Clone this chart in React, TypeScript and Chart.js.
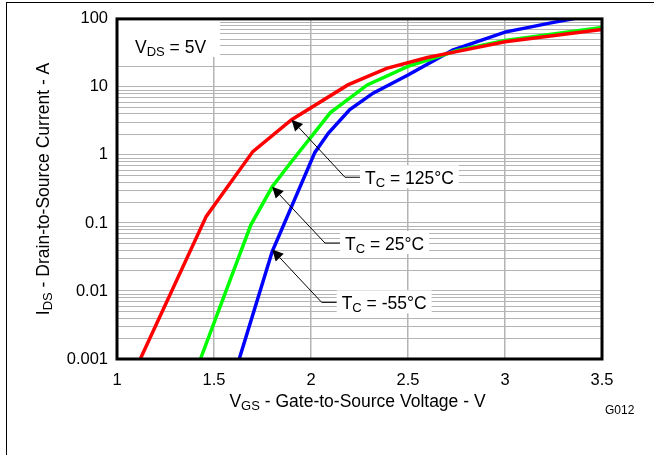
import React, { useEffect, useRef } from 'react';
import { Chart, registerables } from 'chart.js';

Chart.register(...registerables);

// ---- Data ----
const red125X = [1.12, 1.46, 1.7, 1.9, 2.19, 2.39, 2.6, 2.75, 3.0, 3.5];
const red125Y = [0.001, 0.125, 1.12, 3.3, 10.7, 18.7, 27, 33, 46, 70];

const green25X = [1.43, 1.69, 1.8, 1.9, 2.1, 2.29, 2.5, 2.75, 3.0, 3.5];
const green25Y = [0.001, 0.094, 0.34, 0.8, 4.2, 10.7, 20, 34, 48, 75];

const blue55X = [1.63, 1.8, 2.02, 2.09, 2.2, 2.32, 2.5, 2.73, 3.0, 3.25, 3.5];
const blue55Y = [0.001, 0.038, 1.09, 2.1, 4.65, 8.1, 15, 34.7, 64, 89, 120];

const xTickValues = [1, 1.5, 2, 2.5, 3, 3.5];
const xTickLabels = ['1', '1.5', '2', '2.5', '3', '3.5'];
const yDecades = [0.001, 0.01, 0.1, 1, 10, 100];
const yTickLabels = ['0.001', '0.01', '0.1', '1', '10', '100'];

const annoTexts = ['125°C', '25°C', '-55°C'];
const annoTipX = [1.9, 1.8, 1.8];
const annoTipY = [3.3, 0.34, 0.0406];
const annoElbowX = [2.175, 2.072, 2.055];
const annoElbowY = [0.47, 0.0507, 0.0068];

const FONT = '"Liberation Sans", Arial, Helvetica, sans-serif';
const MAIN = `17.5px ${FONT}`;
const SUB = `13px ${FONT}`;

type Part = [string, boolean];

function richWidth(ctx: CanvasRenderingContext2D, parts: Part[]) {
  let w = 0;
  for (const [t, s] of parts) {
    ctx.font = s ? SUB : MAIN;
    w += ctx.measureText(t).width;
  }
  return w;
}

function drawRich(ctx: CanvasRenderingContext2D, parts: Part[], x: number, y: number, align: 'left' | 'center') {
  const w = richWidth(ctx, parts);
  let cx = align === 'center' ? x - w / 2 : x;
  ctx.textAlign = 'left';
  ctx.textBaseline = 'alphabetic';
  ctx.fillStyle = '#000';
  for (const [t, s] of parts) {
    ctx.font = s ? SUB : MAIN;
    ctx.fillText(t, cx, s ? y + 3 : y);
    cx += ctx.measureText(t).width;
  }
}

function labelParts(i: number): Part[] {
  return [['T', false], ['C', true], [' = ' + annoTexts[i], false]];
}

const decorPlugin = {
  id: 'decor',
  beforeDatasetsDraw(chart: any) {
    const ctx: CanvasRenderingContext2D = chart.ctx;
    const { left, top } = chart.chartArea;
    const xs = chart.scales.x;
    const ys = chart.scales.y;
    ctx.save();
    // V_DS box
    const vParts: Part[] = [['V', false], ['DS', true], [' = 5V', false]];
    const vw = richWidth(ctx, vParts);
    ctx.fillStyle = '#fff';
    ctx.fillRect(left, top, vw + 32, 38);
    // annotation boxes
    for (let i = 0; i < annoTexts.length; i++) {
      const ex = xs.getPixelForValue(annoElbowX[i]);
      const ey = ys.getPixelForValue(annoElbowY[i]);
      const w = richWidth(ctx, labelParts(i));
      ctx.fillStyle = '#fff';
      ctx.fillRect(ex + 15, ey - 12, w + 10, 23);
    }
    ctx.restore();
  },
  afterDraw(chart: any) {
    const ctx: CanvasRenderingContext2D = chart.ctx;
    const { left, top, right, bottom } = chart.chartArea;
    const xs = chart.scales.x;
    const ys = chart.scales.y;
    ctx.save();

    // plot border
    ctx.strokeStyle = '#000';
    ctx.lineWidth = 3;
    ctx.strokeRect(left, top, right - left, bottom - top);

    // outer frame (top + left)
    ctx.fillStyle = '#000';
    ctx.fillRect(6, 2, 648, 1);
    ctx.fillRect(6, 2, 1, 453);

    // V_DS label
    drawRich(ctx, [['V', false], ['DS', true], [' = 5V', false]], left + 18, top + 34, 'left');

    // annotations
    for (let i = 0; i < annoTexts.length; i++) {
      const tx = xs.getPixelForValue(annoTipX[i]);
      const ty = ys.getPixelForValue(annoTipY[i]);
      const ex = xs.getPixelForValue(annoElbowX[i]);
      const ey = ys.getPixelForValue(annoElbowY[i]);
      const dx = tx - ex, dy = ty - ey;
      const len = Math.hypot(dx, dy);
      const ux = dx / len, uy = dy / len;
      const hl = 11, hw = 5.5;
      const bx = tx - ux * hl, by = ty - uy * hl;
      ctx.strokeStyle = '#000';
      ctx.lineWidth = 1;
      ctx.beginPath();
      ctx.moveTo(ex + 15, ey);
      ctx.lineTo(ex, ey);
      ctx.lineTo(bx, by);
      ctx.stroke();
      ctx.fillStyle = '#000';
      ctx.beginPath();
      ctx.moveTo(tx, ty);
      ctx.lineTo(bx - uy * hw, by + ux * hw);
      ctx.lineTo(bx + uy * hw, by - ux * hw);
      ctx.closePath();
      ctx.fill();
      drawRich(ctx, labelParts(i), ex + 20, ey + 6.5, 'left');
    }

    // x title
    drawRich(ctx, [['V', false], ['GS', true], [' - Gate-to-Source Voltage - V', false]], (left + right) / 2 - 2, 407, 'center');

    // y title (rotated)
    ctx.save();
    ctx.translate(49, (top + bottom) / 2);
    ctx.rotate(-Math.PI / 2);
    drawRich(ctx, [['I', false], ['DS', true], [' - Drain-to-Source Current - A', false]], 0, 0, 'center');
    ctx.restore();

    // figure id
    ctx.font = `12px ${FONT}`;
    ctx.fillStyle = '#000';
    ctx.textAlign = 'left';
    ctx.textBaseline = 'alphabetic';
    ctx.fillText('G012', 605, 414);

    ctx.restore();
  },
};

function toPoints(xs: number[], ys: number[]) {
  return xs.map((x, i) => ({ x, y: ys[i] }));
}

function isDecade(v: number) {
  const l = Math.log10(v);
  return Math.abs(l - Math.round(l)) < 1e-9;
}

export default function App() {
  const ref = useRef<HTMLCanvasElement>(null);
  useEffect(() => {
    if (!ref.current) return;
    const minorTicks: number[] = [];
    for (let d = 0; d < yDecades.length; d++) {
      const base = yDecades[d];
      if (d === yDecades.length - 1) { minorTicks.push(base); break; }
      for (let k = 1; k <= 9; k++) minorTicks.push(parseFloat((base * k).toPrecision(6)));
    }
    const chart = new Chart(ref.current, {
      type: 'line',
      data: {
        datasets: [
          { label: 'TC = 125°C', data: toPoints(red125X, red125Y), borderColor: '#ff0000', borderWidth: 3.5, pointRadius: 0, tension: 0, fill: false },
          { label: 'TC = 25°C', data: toPoints(green25X, green25Y), borderColor: '#00ff00', borderWidth: 3.5, pointRadius: 0, tension: 0, fill: false },
          { label: 'TC = -55°C', data: toPoints(blue55X, blue55Y), borderColor: '#0000ff', borderWidth: 3.5, pointRadius: 0, tension: 0, fill: false },
        ],
      },
      options: {
        animation: false,
        responsive: false,
        events: [],
        layout: { padding: { left: 0, top: 15, right: 52, bottom: 0 } },
        plugins: { legend: { display: false }, tooltip: { enabled: false }, title: { display: false } },
        scales: {
          x: {
            type: 'linear',
            min: 1,
            max: 3.5,
            afterBuildTicks: (s: any) => { s.ticks = xTickValues.map((v) => ({ value: v })); },
            afterFit: (s: any) => { s.height = 96; },
            ticks: {
              autoSkip: false,
              maxRotation: 0,
              padding: 12,
              color: '#000',
              font: { family: FONT, size: 16.5 },
              callback: (v: any) => { const i = xTickValues.indexOf(Number(v)); return i >= 0 ? xTickLabels[i] : ''; },
            },
            grid: {
              drawTicks: false,
              color: '#b4b4b4',
              lineWidth: 1.5,
            },
            border: { display: false },
          },
          y: {
            type: 'logarithmic',
            min: 0.001,
            max: 100,
            afterBuildTicks: (s: any) => { s.ticks = minorTicks.map((v) => ({ value: v, major: isDecade(v) })); },
            afterFit: (s: any) => { s.width = 117; },
            ticks: {
              autoSkip: false,
              padding: 9,
              color: '#000',
              font: { family: FONT, size: 16.5 },
              callback: (v: any) => {
                const n = Number(v);
                if (!isDecade(n)) return '';
                const i = yDecades.findIndex((d) => Math.abs(d - n) / d < 1e-6);
                return i >= 0 ? yTickLabels[i] : '';
              },
            },
            grid: {
              drawTicks: false,
              color: '#b4b4b4',
              lineWidth: 1,
            },
            border: { display: false },
          },
        },
      },
      plugins: [decorPlugin],
    } as any);
    return () => chart.destroy();
  }, []);
  return (
    <div style={{ position: 'absolute', left: 0, top: 0, width: 654, height: 455, background: '#fff' }}>
      <canvas ref={ref} width={654} height={455} style={{ display: 'block' }} />
    </div>
  );
}
